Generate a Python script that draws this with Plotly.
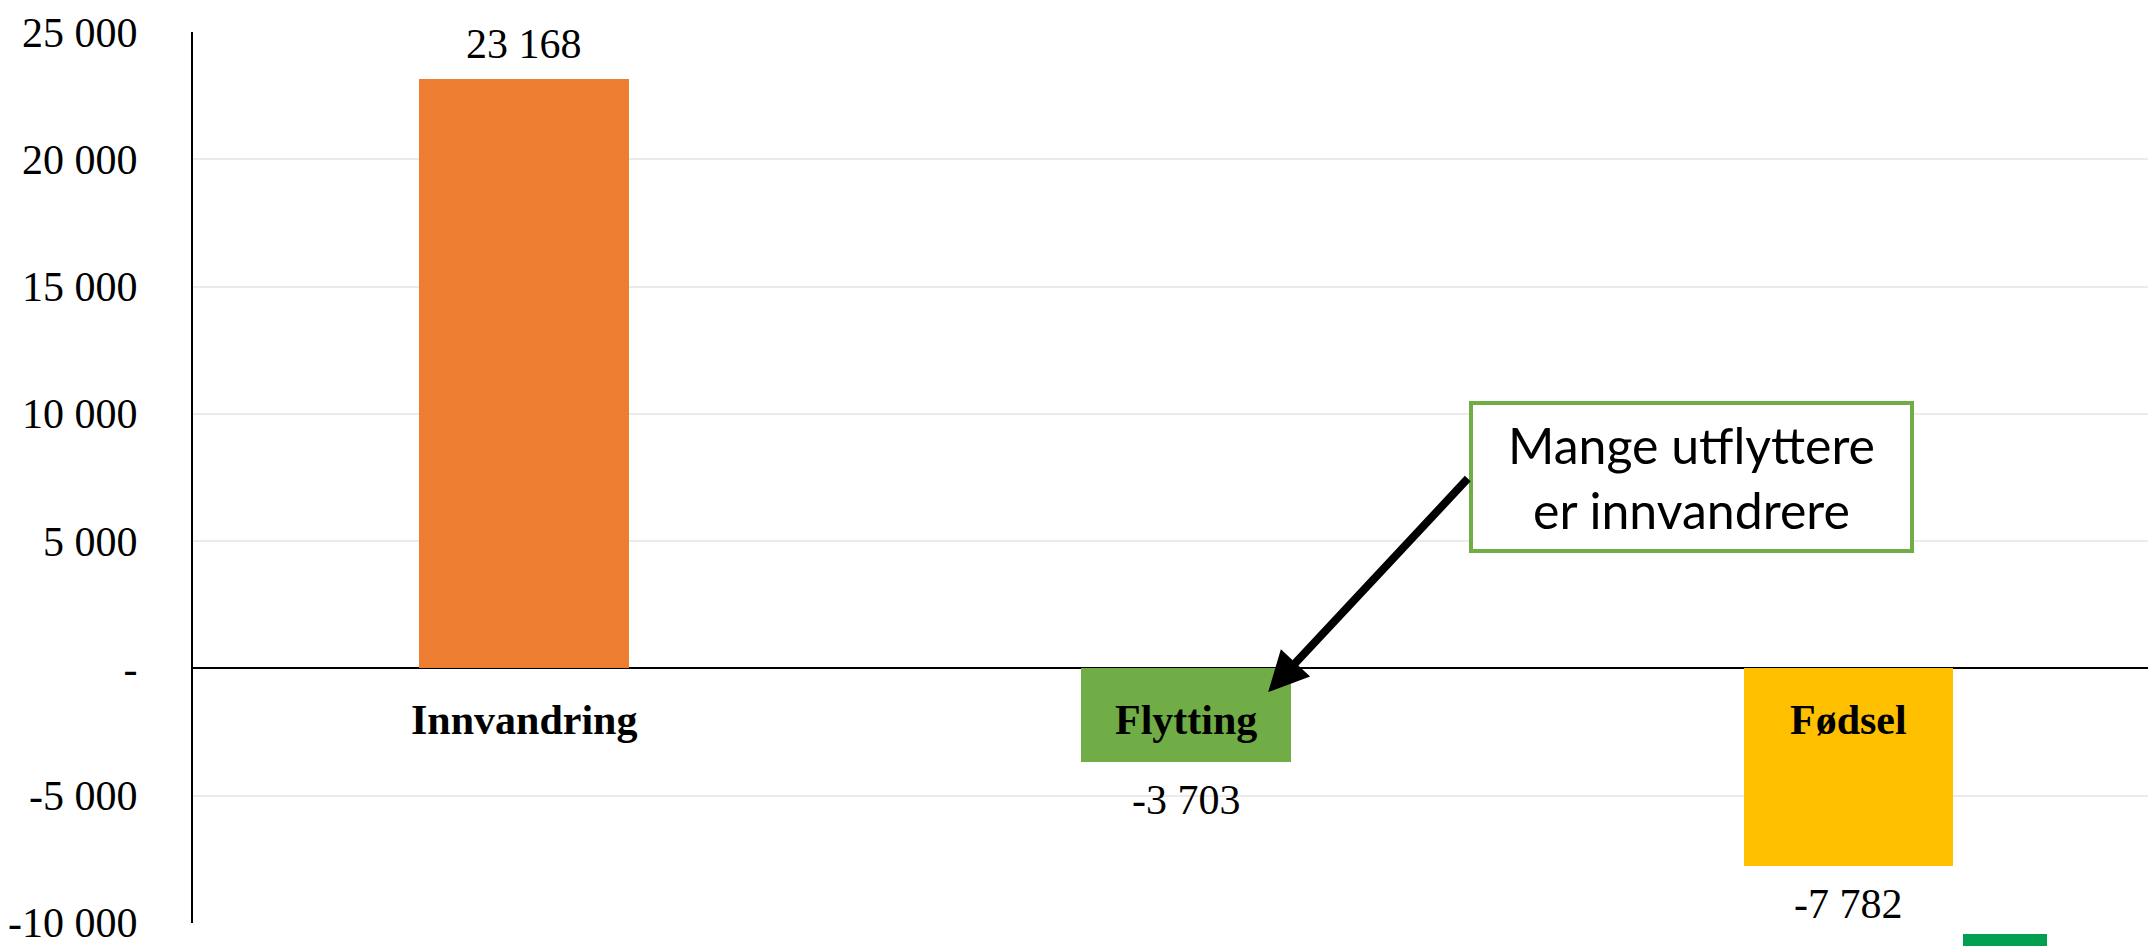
import plotly.graph_objects as go

categories = ["Innvandring", "Flytting", "Fødsel"]
values = [23168, -3703, -7782]
bar_colors = ["#ED7D31", "#70AD47", "#FFC000"]
value_labels = ["23 168", "-3 703", "-7 782"]
y_tickvals = [25000, 20000, 15000, 10000, 5000, 0, -5000, -10000]
y_ticktext = ["25 000", "20 000", "15 000", "10 000", "5 000", "-", "-5 000", "-10 000"]
callout_text = "Mange utflyttere<br>er innvandrere"

SERIF = "Liberation Serif"

fig = go.Figure()
fig.add_trace(go.Bar(
    x=categories, y=values, marker=dict(color=bar_colors, line=dict(width=0)),
    width=0.316, showlegend=False, hoverinfo="skip",
))

# value labels
for c, v, t in zip(categories, values, value_labels):
    fig.add_annotation(x=c, y=v, text=t, showarrow=False, xanchor="center", yanchor="middle",
                       yshift=35 if v > 0 else -38,
                       font=dict(family=SERIF, size=42, color="#000000"))

# category labels just below the zero line
for c in categories:
    fig.add_annotation(x=c, y=0, text="<b>" + c + "</b>", showarrow=False, xanchor="center",
                       yanchor="middle", yshift=-52,
                       font=dict(family=SERIF, size=42, color="#000000"))

# callout box
fig.add_annotation(x=1.764, y=7500, text=callout_text, showarrow=False, xanchor="center", yanchor="middle",
                   align="center", width=437, height=144, borderpad=0,
                   bordercolor="#70AD47", borderwidth=4, bgcolor="#FFFFFF",
                   font=dict(family="Lato", size=50, color="#000000"))

# arrow
fig.add_annotation(x=1.124, y=-937, text="", showarrow=True, axref="pixel", ayref="pixel",
                   ax=201, ay=-215, arrowhead=2, arrowsize=1, arrowwidth=8, arrowcolor="#000000",
                   standoff=0, startstandoff=0)

# small green mark at the bottom edge (cropped element of the original)
fig.add_shape(type="rect", xref="paper", yref="paper", x0=(1963 - 193) / 1963, x1=(2047 - 193) / 1963,
              y0=-0.03, y1=-(939 - 928) / 896, fillcolor="#00A050", line=dict(width=0), layer="above")

fig.update_layout(
    width=2148, height=938,
    margin=dict(l=185, r=0, t=24, b=18, pad=0),
    paper_bgcolor="#FFFFFF", plot_bgcolor="#FFFFFF",
    bargap=0,
    xaxis=dict(range=[-0.5, 2.465], showticklabels=False, showgrid=False, zeroline=False,
               showline=False, ticks="", fixedrange=True),
    yaxis=dict(range=[-10010, 25000], tickvals=y_tickvals, ticktext=y_ticktext,
               tickfont=dict(family=SERIF, size=42, color="#000000"),
               showgrid=True, gridcolor="#EBEBEB", gridwidth=2,
               zeroline=True, zerolinecolor="#000000", zerolinewidth=2,
               showline=True, linecolor="#000000", linewidth=2,
               ticks="", ticklabelstandoff=45, ticklabeloverflow="allow", fixedrange=True),
)

clip_js = (
    "document.querySelectorAll('.main-svg').forEach(function(s){s.style.overflow='hidden';});"
    "var d=document.getElementById('{plot_id}'); if(d){d.style.overflow='hidden';"
    "if(d.parentElement){d.parentElement.style.overflow='hidden';d.parentElement.style.height='938px';}}"
    "window.scrollTo(0,0);"
)
fig.write_html("out.html", post_script=clip_js)
